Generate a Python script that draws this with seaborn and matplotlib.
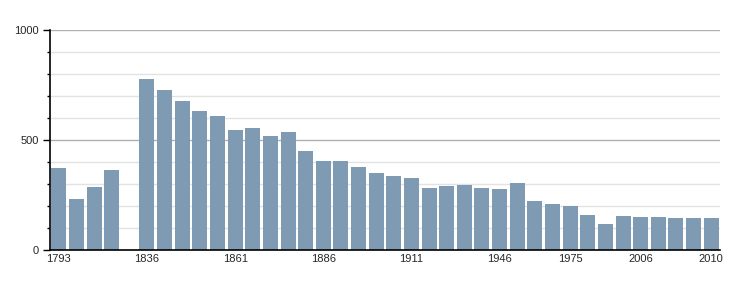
import numpy as np
import pandas as pd
import matplotlib
matplotlib.use("Agg")
import matplotlib.pyplot as plt
import seaborn as sns
from matplotlib.ticker import MultipleLocator

years = ["1793", "1800", "1806", "1821", "1831", "1836", "1841", "1846", "1851",
         "1856", "1861", "1866", "1872", "1876", "1881", "1886", "1891", "1896",
         "1901", "1906", "1911", "1921", "1926", "1931", "1936", "1946", "1954",
         "1962", "1968", "1975", "1982", "1990", "1999", "2006", "2007", "2008",
         "2009", "2010"]
population = [373, 232, 286, 364, np.nan, 777, 727, 677, 632,
              609, 545, 555, 518, 536, 450, 405, 405, 377,
              350, 336, 327, 282, 291, 295, 282, 277, 305,
              223, 209, 200, 159, 118, 155, 150, 150, 145,
              145, 145]
shown_labels = ["1793", "1836", "1861", "1886", "1911", "1946", "1975", "2006", "2010"]

sns.set_theme(style="white")
plt.rcParams["font.family"] = ["Liberation Sans", "DejaVu Sans"]

df = pd.DataFrame({"year": years, "pop": population})

fig = plt.figure(figsize=(7.5, 3), dpi=100)
ax = fig.add_axes([50/750, 50/300, 670/750, 220/300])

sns.barplot(data=df, x="year", y="pop", order=years, color="#7f9ab3",
            saturation=1, width=0.85, ax=ax, zorder=3, edgecolor="none")

ax.set_xlim(-0.5, len(years) - 0.5)
ax.set_ylim(0, 1000)

# gridlines
for v in range(100, 1001, 100):
    if v % 500 == 0:
        ax.axhline(v, color="#b0b0b0", lw=1, zorder=1)
    else:
        ax.axhline(v, color="#e2e2e2", lw=1, zorder=1)

ax.yaxis.set_major_locator(MultipleLocator(500))
ax.yaxis.set_minor_locator(MultipleLocator(100))
ax.tick_params(axis="y", which="major", length=5, width=1, color="black",
               labelsize=8, pad=3, left=True)
ax.tick_params(axis="y", which="minor", length=2.5, width=1, color="black", left=True)

pos = [years.index(y) for y in shown_labels]
ax.set_xticks(pos)
ax.set_xticklabels(shown_labels)
ax.tick_params(axis="x", length=0, labelsize=8, pad=3)

for s in ["top", "right"]:
    ax.spines[s].set_visible(False)
for s in ["left", "bottom"]:
    ax.spines[s].set_visible(True)
    ax.spines[s].set_color("black")
    ax.spines[s].set_linewidth(1.2)
    ax.spines[s].set_zorder(5)

ax.set_xlabel("")
ax.set_ylabel("")

fig.savefig("out.png", dpi=100)
